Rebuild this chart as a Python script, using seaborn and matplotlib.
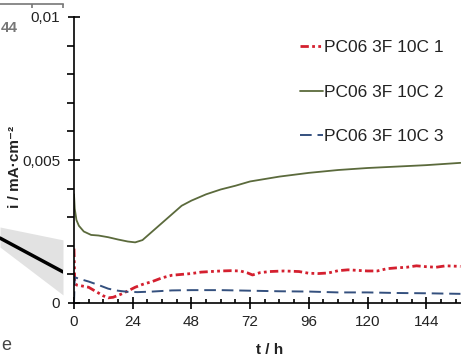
import numpy as np
import pandas as pd
import matplotlib
matplotlib.use("Agg")
import matplotlib.pyplot as plt
import seaborn as sns
from matplotlib import font_manager as fm
from matplotlib.ticker import FixedLocator, FixedFormatter, MultipleLocator, NullFormatter

# ---------------- data ----------------
t1 = [0, 0.3, 1, 3, 6, 9, 12, 14, 16, 19, 22, 25, 28, 32, 36, 40, 44, 48, 52, 56, 60, 64,
      68, 71, 73, 76, 80, 86, 92, 96, 100, 104, 108, 112, 116, 120, 124, 128, 132, 136,
      140, 144, 148, 152, 158]
i1 = [0.0019, 0.0007, 0.00063, 0.0006, 0.00055, 0.0004, 0.00025, 0.00018, 0.0002, 0.0003,
      0.00042, 0.00055, 0.00065, 0.00075, 0.00088, 0.00097, 0.001, 0.00103, 0.00108, 0.0011,
      0.00112, 0.00113, 0.00112, 0.00105, 0.00098, 0.00106, 0.0011, 0.00112, 0.0011, 0.00104,
      0.00103, 0.00105, 0.00113, 0.00116, 0.00114, 0.00112, 0.00112, 0.0012, 0.00123,
      0.00125, 0.0013, 0.00127, 0.00125, 0.0013, 0.00128]

t2 = [0, 0.3, 1, 2, 4, 7, 10, 14, 18, 22, 25, 28, 32, 36, 40, 44, 48, 54, 60, 66, 72, 84,
      96, 108, 120, 132, 144, 158]
i2 = [0.0038, 0.0033, 0.0029, 0.0027, 0.0025, 0.00238, 0.00236, 0.0023, 0.00222, 0.00215,
      0.00212, 0.0022, 0.0025, 0.0028, 0.0031, 0.0034, 0.00358, 0.0038, 0.00397, 0.0041,
      0.00425, 0.00442, 0.00455, 0.00465, 0.00472, 0.00477, 0.00482, 0.0049]

t3 = [0, 0.3, 2, 6, 10, 14, 18, 22, 26, 32, 40, 48, 60, 72, 84, 96, 108, 120, 132, 144, 158]
i3 = [0.0, 0.0009, 0.00085, 0.00075, 0.00063, 0.0005, 0.00043, 0.00039, 0.00038, 0.0004,
      0.00044, 0.00045, 0.00045, 0.00043, 0.00041, 0.0004, 0.00037, 0.00037, 0.00035,
      0.00034, 0.00032]

labels = ["PC06 3F 10C 1", "PC06 3F 10C 2", "PC06 3F 10C 3"]
xticks = [0, 24, 48, 72, 96, 120, 144]
yticks = [0, 0.005, 0.01]
ytick_labels = ["0", "0,005", "0,01"]

# fragment of neighbouring panel (left edge)
frag_x = [0.0, 1.0]
frag_line = [0.217, 0.104]
frag_lo = [0.187, 0.027]
frag_hi = [0.254, 0.211]

# ---------------- fonts ----------------
sns.set_theme(style="white")
names = {f.name for f in fm.fontManager.ttflist}
narrow = "Liberation Sans Narrow" if "Liberation Sans Narrow" in names else "Liberation Sans"
plt.rcParams["font.family"] = ["Liberation Sans", "DejaVu Sans"]

W, H = 461, 361
fig = plt.figure(figsize=(W / 100, H / 100), dpi=100)

# ---------- fragment axes ----------
ax0 = fig.add_axes([0, 0.1607, 63 / W, 0.8286])
ax0.fill_between(frag_x, frag_lo, frag_hi, color="#e2e2e2", lw=0)
sns.lineplot(x=frag_x, y=frag_line, ax=ax0, color="black", lw=2.5)
ax0.set_xlim(0, 1)
ax0.set_ylim(0, 1)
for s in ["left", "right", "bottom"]:
    ax0.spines[s].set_visible(False)
ax0.spines["top"].set_color("#777777")
ax0.spines["top"].set_linewidth(1.2)
ax0.set_facecolor("none")
ax0.xaxis.tick_top()
ax0.set_xticks([0.5, 1.0])
ax0.set_xticklabels([])
ax0.tick_params(axis="x", direction="in", length=3, color="#777777", width=1.2)
ax0.set_yticks([])
fig.text(1 / W, 1 - 28 / H, "44", ha="left", va="center", fontsize=11,
         color="#777777", fontweight="bold")
fig.text(1 / W, 1 - 345 / H, "e", ha="left", va="center", fontsize=13, color="#444444")

# ---------- main axes ----------
ax = fig.add_axes([74 / W, 1 - 303 / H, 1 - 74 / W, (303 - 17) / H])
ax.set_facecolor("none")
c1, c2, c3 = "#d4202f", "#5b6a3c", "#34507e"
sns.lineplot(x=t1, y=i1, ax=ax, color=c1, lw=2.0, label=labels[0],
             linestyle=(0, (3, 1.2, 1, 1.2, 1, 1.2)), estimator=None, sort=False)
sns.lineplot(x=t2, y=i2, ax=ax, color=c2, lw=1.3, label=labels[1],
             estimator=None, sort=False)
sns.lineplot(x=t3, y=i3, ax=ax, color=c3, lw=1.4, label=labels[2],
             linestyle=(0, (6, 3)), estimator=None, sort=False)

ax.set_xlim(0, (W - 74) / 58.7 * 24)
ax.set_ylim(0, 0.01)
ax.spines["top"].set_visible(False)
ax.spines["right"].set_visible(False)
for s in ["left", "bottom"]:
    ax.spines[s].set_color("black")
    ax.spines[s].set_linewidth(1.2)

ax.xaxis.set_major_locator(FixedLocator(xticks))
ax.xaxis.set_minor_locator(MultipleLocator(6))
ax.set_xticklabels([str(v) for v in xticks])
ax.yaxis.set_major_locator(FixedLocator(yticks))
ax.yaxis.set_major_formatter(FixedFormatter(ytick_labels))
ax.yaxis.set_minor_locator(MultipleLocator(0.001))
ax.yaxis.set_minor_formatter(NullFormatter())
ax.tick_params(axis="both", which="major", direction="inout", length=8, width=1.2,
               color="black", labelsize=11, labelcolor="#222222", bottom=True, left=True)
ax.tick_params(axis="y", which="minor", direction="out", length=5, width=1.2,
               color="black", left=True)
ax.tick_params(axis="x", which="minor", direction="in", length=3, width=1.2,
               color="black", bottom=True)
ax.tick_params(axis="y", which="major", pad=6)
ax.tick_params(axis="x", which="major", pad=5)
for lab in ax.get_xticklabels() + ax.get_yticklabels():
    lab.set_family([narrow, "DejaVu Sans"])

ax.set_xlabel("t / h", fontsize=11, fontweight="bold", color="#222222")
ax.set_ylabel("i / mA·cm⁻²", fontsize=11, fontweight="bold", color="#222222")
ax.xaxis.set_label_coords((270 - 74) / (W - 74), (303 - 350) / 286)
ax.yaxis.set_label_coords((15 - 74) / (W - 74), (303 - 167) / 286)
ax.xaxis.label.set_va("center")
ax.yaxis.label.set_va("center")

leg = ax.legend(loc="upper left", bbox_to_anchor=(300 / W, 1 - 40 / H),
                bbox_transform=fig.transFigure, frameon=False, fontsize=12.5,
                handlelength=1.3, handletextpad=0.1, labelspacing=1.7,
                borderpad=0, borderaxespad=0)
for txt in leg.get_texts():
    txt.set_color("#222222")
    txt.set_family([narrow, "Liberation Sans", "DejaVu Sans"])

fig.savefig("out.png", dpi=100)
